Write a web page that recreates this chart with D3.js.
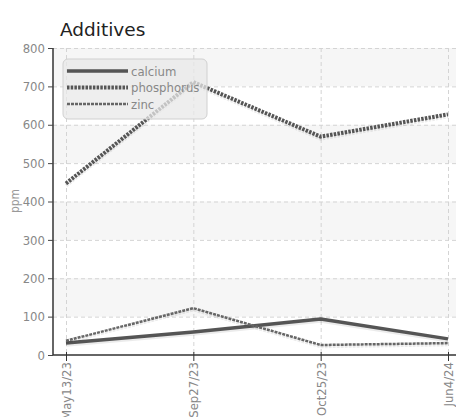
<!DOCTYPE html>
<html>
<head>
<meta charset="utf-8">
<script src="https://cdn.jsdelivr.net/npm/d3@7"></script>
<style>
  body { margin: 0; background: #fff; }
  svg { display: block; }
  .tick text { font-family: "Liberation Sans Narrow", "DejaVu Sans Condensed", sans-serif; font-size: 13px; fill: #888; }
</style>
</head>
<body>
<svg id="chart" width="456" height="417"></svg>
<script>
// 데이터
const dates = ["May13/23", "Sep27/23", "Oct25/23", "Jun4/24"];
const calcium = [31, 60, 94, 42];
const phosphorus = [447, 711, 569, 627];
const zinc = [37, 122, 26, 31];
const yTicks = [0, 100, 200, 300, 400, 500, 600, 700, 800];

const seriesList = [
  { name: "calcium", values: calcium, width: 3.5, dash: null, color: "#555" },
  { name: "phosphorus", values: phosphorus, width: 4, dash: "2.5,1.2", color: "#555" },
  { name: "zinc", values: zinc, width: 2.5, dash: "3,1", color: "#666" },
];

const svg = d3.select("#chart");
const plotL = 53, plotR = 448, plotT = 48, plotB = 355;
const font = "Liberation Sans Narrow, DejaVu Sans Condensed, sans-serif";

const x = d3.scalePoint().domain(dates).range([66, plotR]);
const y = d3.scaleLinear().domain([0, 800]).range([plotB, plotT]);

// 타이틀
svg.append("text")
  .attr("x", 60).attr("y", 36)
  .attr("font-family", "DejaVu Sans, sans-serif")
  .attr("font-size", 18.5)
  .attr("fill", "#222")
  .text("Additives");

// 배경 줄무늬
const bands = svg.append("g");
for (let i = 0; i < yTicks.length - 1; i++) {
  if ((yTicks[i] / 100) % 2 === 1) {
    bands.append("rect")
      .attr("x", plotL).attr("width", 456 - plotL)
      .attr("y", y(yTicks[i + 1])).attr("height", y(yTicks[i]) - y(yTicks[i + 1]))
      .attr("fill", "#f6f6f6");
  }
}

// 그리드
const grid = svg.append("g").attr("stroke", "#d4d4d4").attr("stroke-dasharray", "4,3");
grid.selectAll("line.h").data(yTicks.slice(1)).join("line")
  .attr("x1", plotL).attr("x2", 456)
  .attr("y1", d => y(d) + 0.5).attr("y2", d => y(d) + 0.5);
grid.selectAll("line.v").data(dates).join("line")
  .attr("x1", d => x(d) + 0.5).attr("x2", d => x(d) + 0.5)
  .attr("y1", plotT).attr("y2", plotB);

// 축
const yAxis = svg.append("g")
  .attr("transform", `translate(${plotL},0)`)
  .call(d3.axisLeft(y).tickValues(yTicks).tickSize(5).tickPadding(3));
yAxis.select(".domain").attr("stroke", "#333").attr("stroke-width", 1.5).attr("d", `M0,${plotT}V${plotB}`);
yAxis.selectAll(".tick line").attr("stroke", "#444");

const xAxis = svg.append("g")
  .attr("transform", `translate(0,${plotB})`)
  .call(d3.axisBottom(x).tickSize(6).tickPadding(4));
xAxis.select(".domain").attr("stroke", "#333").attr("stroke-width", 1.5).attr("d", `M${plotL},0H456`);
xAxis.selectAll(".tick line").attr("stroke", "#333").attr("y1", -3);
xAxis.selectAll(".tick text")
  .attr("transform", "rotate(-90)")
  .attr("text-anchor", "end")
  .attr("x", -7).attr("y", 0).attr("dy", "0.35em");

// y축 제목
svg.append("text")
  .attr("transform", "translate(19,201) rotate(-90)")
  .attr("text-anchor", "middle")
  .attr("font-family", font)
  .attr("font-size", 12)
  .attr("fill", "#999")
  .text("ppm");

// 라인
const line = d3.line().x((d, i) => x(dates[i])).y(d => y(d));
const lines = svg.append("g").attr("fill", "none");
seriesList.forEach(s => {
  // 그림자
  lines.append("path")
    .attr("d", line(s.values))
    .attr("transform", "translate(0,2)")
    .attr("stroke", "#000").attr("stroke-opacity", 0.08)
    .attr("stroke-width", s.width)
    .attr("stroke-dasharray", s.dash);
  lines.append("path")
    .attr("d", line(s.values))
    .attr("stroke", s.color)
    .attr("stroke-width", s.width)
    .attr("stroke-linejoin", "round")
    .attr("stroke-dasharray", s.dash);
});

// 범례
const legend = svg.append("g").attr("transform", "translate(63,59)");
legend.append("rect")
  .attr("width", 144).attr("height", 60).attr("rx", 5)
  .attr("fill", "#e8e8e8").attr("fill-opacity", 0.75)
  .attr("stroke", "#d0d0d0");
seriesList.forEach((s, i) => {
  const ly = 12 + i * 16.5;
  legend.append("line")
    .attr("x1", 4).attr("x2", 65).attr("y1", ly).attr("y2", ly)
    .attr("stroke", s.color).attr("stroke-width", s.width)
    .attr("stroke-dasharray", s.dash);
  legend.append("text")
    .attr("x", 68).attr("y", ly).attr("dy", "0.35em")
    .attr("font-family", font)
    .attr("font-size", 13).attr("fill", "#888")
    .text(s.name);
});
</script>
</body>
</html>
